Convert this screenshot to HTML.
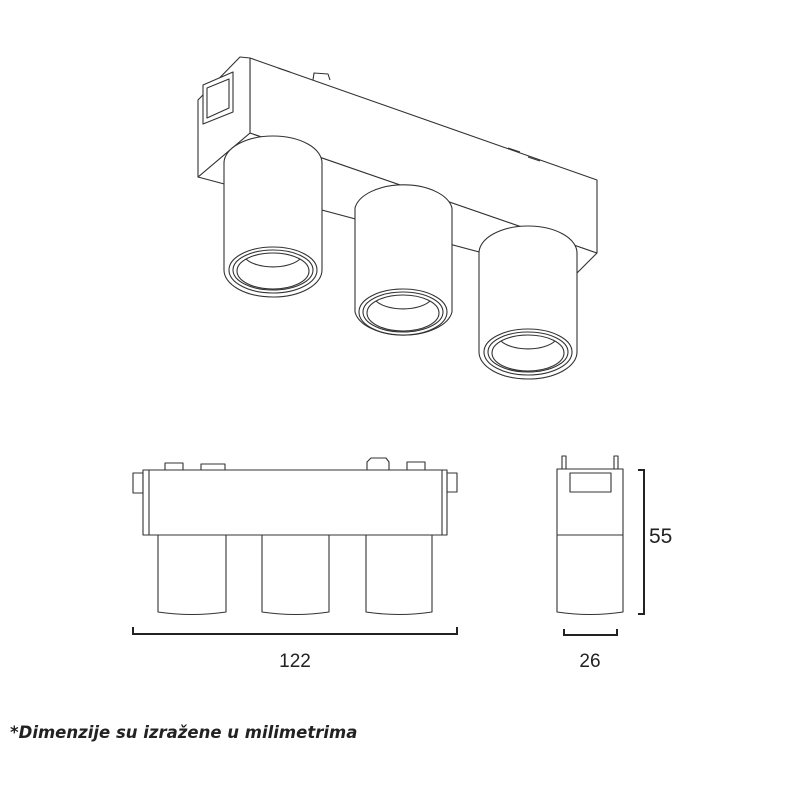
<!DOCTYPE html>
<html><head><style>
html,body{margin:0;padding:0;background:#fff;}
svg{display:block;}
text{font-family:"Liberation Sans",sans-serif;fill:#222;}
</style></head><body>
<svg width="800" height="800" viewBox="0 0 800 800" xmlns="http://www.w3.org/2000/svg">
<g fill="#fff" stroke="#333" stroke-width="1.1" stroke-linejoin="round">
<!-- iso box -->
<polygon points="250,133 597,253 573,277 198,177"/>
<polygon points="250,58 597,180 597,253 250,133"/>
<polygon points="198,100 240,57 250,58 250,133 198,177"/>
<polygon points="203,85 233,72 233,112 203,124"/>
<polygon points="207,88 229,79 229,108 207,118"/>
<path d="M313,80 L314,73 L328,74 L330,80"/>
<path d="M278,68 L290,72 M508,148 L520,152 M528,157 L540,161"/>
<!-- cylinder 1 -->
<path d="M224,163 A49,27 0 0 1 322,163 L322,270 A49,27 0 0 1 224,270 Z"/>
<ellipse cx="273" cy="270" rx="44" ry="23"/>
<ellipse cx="273" cy="270" rx="40" ry="20"/>
<ellipse cx="273" cy="271" rx="36" ry="18"/>
<path d="M246,259 A30,14 0 0 0 300,259" fill="none"/>
<!-- cylinder 2 -->
<path d="M355,208 A49,27 0 0 1 452,208 L452,312 A49,27 0 0 1 355,312 Z"/>
<ellipse cx="403" cy="312" rx="44" ry="23"/>
<ellipse cx="403" cy="312" rx="40" ry="20"/>
<ellipse cx="403" cy="313" rx="36" ry="18"/>
<path d="M376,301 A30,14 0 0 0 430,301" fill="none"/>
<!-- cylinder 3 -->
<path d="M479,253 A49,27 0 0 1 577,253 L577,352 A49,27 0 0 1 479,352 Z"/>
<ellipse cx="528" cy="352" rx="44" ry="23"/>
<ellipse cx="528" cy="352" rx="40" ry="20"/>
<ellipse cx="528" cy="353" rx="36" ry="18"/>
<path d="M501,341 A30,14 0 0 0 555,341" fill="none"/>

<!-- front view -->
<rect x="165" y="463" width="18" height="8"/>
<rect x="201" y="464" width="24" height="7"/>
<path d="M367,471 L367,462 L371,458 L386,458 L389,462 L389,471"/>
<rect x="407" y="462" width="18" height="9"/>
<rect x="133" y="473" width="10" height="20"/>
<rect x="447" y="473" width="10" height="19"/>
<path d="M158,535 L158,612 Q192,617 226,612 L226,535"/>
<path d="M262,535 L262,612 Q296,617 329,612 L329,535"/>
<path d="M366,535 L366,612 Q399,617 432,612 L432,535"/>
<rect x="143" y="470" width="304" height="65"/>
<line x1="149" y1="470" x2="149" y2="535"/>
<line x1="442" y1="470" x2="442" y2="535"/>

<!-- side view -->
<rect x="562" y="456" width="4" height="13"/>
<rect x="614" y="456" width="4" height="13"/>
<path d="M557,535 L557,612 Q590,617 623,612 L623,535"/>
<rect x="557" y="469" width="66" height="66"/>
<rect x="570" y="473" width="41" height="19"/>
</g>
<g fill="none" stroke="#222" stroke-width="2">
<path d="M133,627 L133,634 L457,634 L457,627"/>
<path d="M638,470 L644,470 L644,614 L638,614"/>
<path d="M564,629 L564,635 L617,635 L617,629"/>
</g>
<text x="295" y="667" font-size="19" text-anchor="middle">122</text>
<text x="590" y="667" font-size="19" text-anchor="middle">26</text>
<text x="649" y="543" font-size="21">55</text>
<text x="10" y="738" font-size="16.5" font-style="italic" font-weight="bold" style="font-family:'DejaVu Sans',sans-serif">*Dimenzije su izražene u milimetrima</text>
</svg>
</body></html>
